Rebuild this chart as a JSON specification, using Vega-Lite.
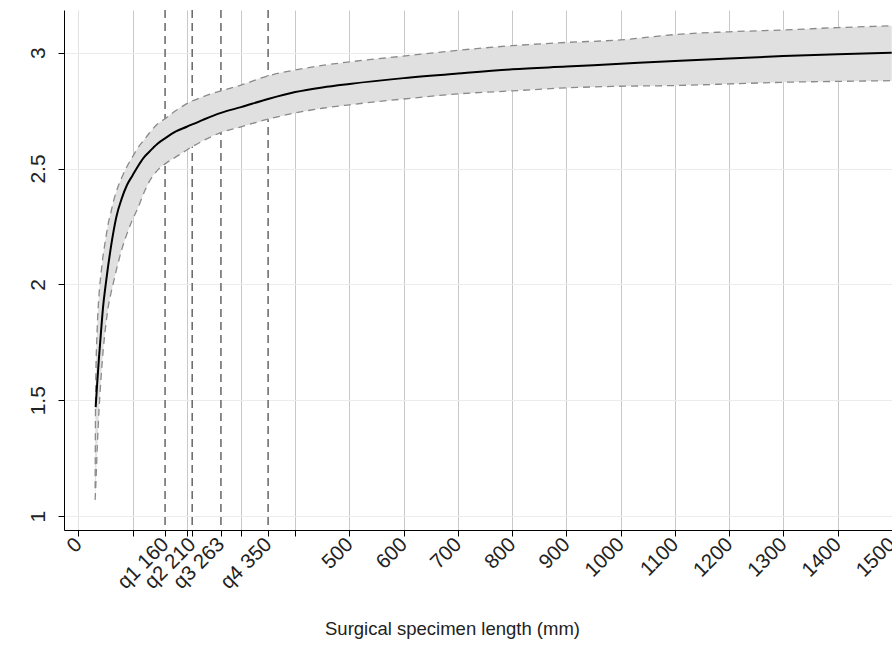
{
  "$schema": "https://vega.github.io/schema/vega-lite/v6.json",
  "width": 828,
  "height": 520,
  "autosize": {"type": "none"},
  "padding": {"left": 64, "top": 10, "right": 0, "bottom": 116},
  "background": "white",
  "config": {"view": {"stroke": null}, "font": "Liberation Sans"},
  "datasets": {
    "quartiles": [
      {"q": "q1", "x": 160},
      {"q": "q2", "x": 210},
      {"q": "q3", "x": 263},
      {"q": "q4", "x": 350}
    ],
    "curve": [
      {"x": 31, "fit": null, "lo": 1.07, "hi": 1.12},
      {"x": 32, "fit": 1.47, "lo": 1.12, "hi": 1.55},
      {"x": 35, "fit": 1.58, "lo": 1.30, "hi": 1.82},
      {"x": 38, "fit": 1.68, "lo": 1.45, "hi": 1.95},
      {"x": 42, "fit": 1.80, "lo": 1.60, "hi": 2.05},
      {"x": 46, "fit": 1.91, "lo": 1.72, "hi": 2.13},
      {"x": 50, "fit": 1.99, "lo": 1.81, "hi": 2.19},
      {"x": 55, "fit": 2.08, "lo": 1.90, "hi": 2.26},
      {"x": 60, "fit": 2.16, "lo": 1.96, "hi": 2.31},
      {"x": 65, "fit": 2.23, "lo": 2.01, "hi": 2.36},
      {"x": 70, "fit": 2.29, "lo": 2.06, "hi": 2.40},
      {"x": 80, "fit": 2.37, "lo": 2.15, "hi": 2.46},
      {"x": 90, "fit": 2.43, "lo": 2.22, "hi": 2.51},
      {"x": 100, "fit": 2.47, "lo": 2.28, "hi": 2.55},
      {"x": 110, "fit": 2.51, "lo": 2.33, "hi": 2.59},
      {"x": 120, "fit": 2.545, "lo": 2.39, "hi": 2.62},
      {"x": 130, "fit": 2.57, "lo": 2.44, "hi": 2.65},
      {"x": 145, "fit": 2.605, "lo": 2.49, "hi": 2.69},
      {"x": 160, "fit": 2.63, "lo": 2.52, "hi": 2.715},
      {"x": 180, "fit": 2.66, "lo": 2.55, "hi": 2.75},
      {"x": 200, "fit": 2.68, "lo": 2.58, "hi": 2.78},
      {"x": 230, "fit": 2.71, "lo": 2.62, "hi": 2.81},
      {"x": 263, "fit": 2.74, "lo": 2.655, "hi": 2.835},
      {"x": 300, "fit": 2.765, "lo": 2.68, "hi": 2.86},
      {"x": 350, "fit": 2.80, "lo": 2.713, "hi": 2.90},
      {"x": 400, "fit": 2.83, "lo": 2.74, "hi": 2.925},
      {"x": 450, "fit": 2.85, "lo": 2.76, "hi": 2.945},
      {"x": 500, "fit": 2.865, "lo": 2.775, "hi": 2.96},
      {"x": 600, "fit": 2.89, "lo": 2.80, "hi": 2.985},
      {"x": 700, "fit": 2.91, "lo": 2.822, "hi": 3.01},
      {"x": 800, "fit": 2.928, "lo": 2.835, "hi": 3.03},
      {"x": 900, "fit": 2.94, "lo": 2.848, "hi": 3.044},
      {"x": 1000, "fit": 2.952, "lo": 2.855, "hi": 3.055},
      {"x": 1100, "fit": 2.964, "lo": 2.858, "hi": 3.078},
      {"x": 1200, "fit": 2.975, "lo": 2.865, "hi": 3.09},
      {"x": 1300, "fit": 2.985, "lo": 2.872, "hi": 3.098},
      {"x": 1400, "fit": 2.993, "lo": 2.876, "hi": 3.108},
      {"x": 1500, "fit": 3.0, "lo": 2.879, "hi": 3.116}
    ]
  },
  "encoding": {
    "x": {
      "field": "x",
      "type": "quantitative",
      "scale": {"domain": [-26.4, 1500.5], "nice": false, "zero": false},
      "axis": {
        "values": [0, 100, 160, 200, 210, 263, 300, 350, 400, 500, 600, 700, 800, 900, 1000, 1100, 1200, 1300, 1400, 1500],
        "format": "d",
        "labelExpr": "datum.value==160?'q1 160':datum.value==210?'q2 210':datum.value==263?'q3 263':datum.value==350?'q4 350':(datum.value>0&&datum.value<500)?'':datum.label",
        "labelAngle": -45,
        "labelAlign": "right",
        "labelBaseline": "middle",
        "labelFontSize": 20.5,
        "labelColor": "#222222",
        "labelPadding": 5,
        "labelOverlap": false,
        "labelBound": false,
        "labelFlush": false,
        "tickSize": 6,
        "tickColor": "#000000",
        "domainColor": "#000000",
        "grid": true,
        "gridColor": {"condition": [{"test": "datum.value % 100 != 0", "value": "rgba(0,0,0,0)"}, {"test": "datum.value == 0", "value": "#e2e2e2"}], "value": "#c8c8c8"},
        "title": "Surgical specimen length (mm)",
        "titleFontSize": 18.5,
        "titleFontWeight": "normal",
        "titleColor": "#222222",
        "titleX": 388,
        "titleY": 104,
        "titleAlign": "center",
        "titleBaseline": "alphabetic"
      }
    }
  },
  "layer": [
    {
      "data": {"name": "quartiles"},
      "mark": {"type": "rule", "color": "#666666", "strokeWidth": 1.5, "strokeDash": [8, 5]},
      "encoding": {}
    },
    {
      "data": {"name": "curve"},
      "mark": {"type": "area", "color": "#e0e0e0", "opacity": 1, "interpolate": "monotone"},
      "encoding": {
        "y": {
          "field": "lo",
          "type": "quantitative",
          "scale": {"domain": [0.94, 3.184], "nice": false, "zero": false},
          "axis": {"values": [1, 1.5, 2, 2.5, 3], "format": "~g", "labelAngle": -90, "labelAlign": "center", "labelBaseline": "bottom", "labelFontSize": 21, "labelColor": "#222222", "labelPadding": 10, "tickSize": 6, "tickColor": "#000000", "domainColor": "#000000", "grid": true, "gridColor": "#ececec", "title": null}
        },
        "y2": {"field": "hi"}
      }
    },
    {
      "data": {"name": "curve"},
      "mark": {"type": "line", "color": "#8a8a8a", "strokeWidth": 1.3, "strokeDash": [7, 5], "interpolate": "monotone"},
      "encoding": {
        "y": {
          "field": "lo",
          "type": "quantitative",
          "axis": {"values": [1, 1.5, 2, 2.5, 3], "format": "~g", "labelAngle": -90, "labelAlign": "center", "labelBaseline": "bottom", "labelFontSize": 21, "labelColor": "#222222", "labelPadding": 10, "tickSize": 6, "tickColor": "#000000", "domainColor": "#000000", "grid": true, "gridColor": "#ececec", "title": null}
        }
      }
    },
    {
      "data": {"name": "curve"},
      "mark": {"type": "line", "color": "#8a8a8a", "strokeWidth": 1.3, "strokeDash": [7, 5], "interpolate": "monotone"},
      "encoding": {
        "y": {
          "field": "hi",
          "type": "quantitative",
          "axis": {"values": [1, 1.5, 2, 2.5, 3], "format": "~g", "labelAngle": -90, "labelAlign": "center", "labelBaseline": "bottom", "labelFontSize": 21, "labelColor": "#222222", "labelPadding": 10, "tickSize": 6, "tickColor": "#000000", "domainColor": "#000000", "grid": true, "gridColor": "#ececec", "title": null}
        }
      }
    },
    {
      "data": {"name": "curve"},
      "mark": {"type": "line", "color": "#000000", "strokeWidth": 2, "interpolate": "monotone"},
      "encoding": {
        "y": {
          "field": "fit",
          "type": "quantitative",
          "axis": {"values": [1, 1.5, 2, 2.5, 3], "format": "~g", "labelAngle": -90, "labelAlign": "center", "labelBaseline": "bottom", "labelFontSize": 21, "labelColor": "#222222", "labelPadding": 10, "tickSize": 6, "tickColor": "#000000", "domainColor": "#000000", "grid": true, "gridColor": "#ececec", "title": null}
        }
      }
    }
  ]
}
